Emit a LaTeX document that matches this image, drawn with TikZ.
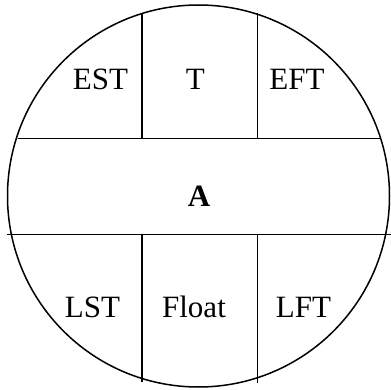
\documentclass[tikz,border=0pt]{standalone}
\usepackage{fontspec}
\setmainfont{Liberation Serif}
\usepackage{tikz}

\begin{document}
\begin{tikzpicture}[x=1pt, y=-1pt, every node/.style={font=\fontsize{31}{31}\selectfont}]
  \tikzset{
    field/.style={inner sep=0pt, anchor=base},
    rule/.style={line width=1.5pt}
  }
  \useasboundingbox (0,0) rectangle (391,390);

  \draw[rule] (198.5,196) circle (191);
  \draw[rule] (18,138.3) -- (380.7,138.3);
  \draw[rule] (7,234.3) -- (391,234.3);
  \draw[rule] (142,14) -- (142,138.3);
  \draw[rule] (257.3,13.3) -- (257.3,138.3);
  \draw[rule] (142,234.3) -- (142,381.5);
  \draw[rule] (257.3,234.3) -- (257.3,383);

  \node[field] (est)   at (100.5,90)  {EST};
  \node[field] (dur)   at (195.3,90)  {T};
  \node[field] (eft)   at (297,90)    {EFT};
  \node[field] (act)   at (199,206.7) {\textbf{A}};
  \node[field] (lst)   at (92.5,317.7) {LST};
  \node[field] (slack) at (194,317.7) {Float};
  \node[field] (lft)   at (303.5,317.7) {LFT};
\end{tikzpicture}
\end{document}
